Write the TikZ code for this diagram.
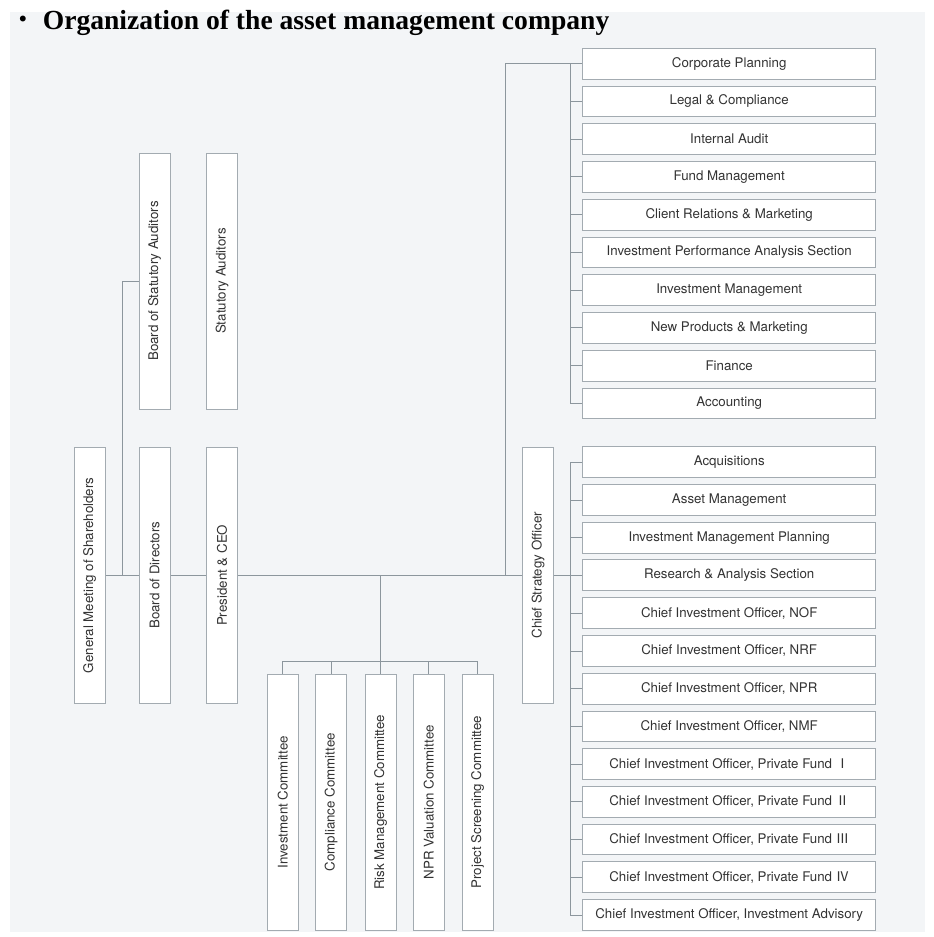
\documentclass[tikz,border=0pt]{standalone}
\usepackage{fontspec}
\setmainfont{Liberation Serif}
\setsansfont{TeX Gyre Heros}
\newfontfamily\cjk{Noto Sans CJK JP}

\definecolor{bgfill}{HTML}{F3F5F7}
\definecolor{boxline}{HTML}{A3ABB1}
\definecolor{wireline}{HTML}{8C969D}
\definecolor{txt}{HTML}{333333}

\newcommand{\vlabel}[1]{\rotatebox{90}{#1}}

\begin{document}
\begin{tikzpicture}[x=1pt, y=-1pt,
	unit/.style={draw=boxline, fill=white, line width=1pt, minimum width=293pt, minimum height=30.7pt, inner sep=0pt, text=txt, font=\sffamily\fontsize{13.3}{15}\selectfont},
	post/.style={unit, minimum width=31pt, minimum height=256pt},
	wire/.style={draw=wireline, line width=1pt}]
				\useasboundingbox (0,0) rectangle (934,937);
				
				% Light gray sheet behind the chart
				\fill[bgfill] (10,12) rectangle (925,932);
				
				% Heading
				\node[anchor=base west, inner sep=0pt, font=\fontsize{27.6}{30}\selectfont\bfseries] (title) at (9,29) {{\mdseries\cjk ・}\hspace{6pt}Organization of the asset management company};
				
				% Governing bodies (upright boxes)
				\node[post] (gm) at (89.7,575.3) {\vlabel{General Meeting of Shareholders}};
				\node[post] (bod) at (154.7,575.3) {\vlabel{Board of Directors}};
				\node[post] (ceo) at (222,575.3) {\vlabel{President \& CEO}};
				\node[post] (bsa) at (154.7,281) {\vlabel{Board of Statutory Auditors}};
				\node[post] (sa) at (222,281) {\vlabel{Statutory Auditors}};
				\node[post] (cso) at (538,575.3) {\vlabel{Chief Strategy Officer}};
				
				% Committees
				\node[post] (inv) at (282.8,802.2) {\vlabel{Investment Committee}};
				\node[post] (comp) at (331.2,802.2) {\vlabel{Compliance Committee}};
				\node[post] (risk) at (380.5,802.2) {\vlabel{Risk Management Committee}};
				\node[post] (npr) at (428.7,802.2) {\vlabel{NPR Valuation Committee}};
				\node[post] (proj) at (477.5,802.2) {\vlabel{Project Screening Committee}};
				
				% Departments under the President
				\node[unit] (corp) at (729.2,63.7) {Corporate Planning};
				\node[unit] (legal) at (729.2,101.4) {Legal \& Compliance};
				\node[unit] (audit) at (729.2,139.2) {Internal Audit};
				\node[unit] (fund) at (729.2,176.9) {Fund Management};
				\node[unit] (client) at (729.2,214.7) {Client Relations \& Marketing};
				\node[unit] (perf) at (729.2,252.4) {Investment Performance Analysis Section};
				\node[unit] (invm) at (729.2,290.2) {Investment Management};
				\node[unit] (newp) at (729.2,327.9) {New Products \& Marketing};
				\node[unit] (fin) at (729.2,365.7) {Finance};
				\node[unit] (acct) at (729.2,403.4) {Accounting};
				
				% Departments under the Chief Strategy Officer
				\node[unit] (acq) at (729.2,462.3) {Acquisitions};
				\node[unit] (asset) at (729.2,500) {Asset Management};
				\node[unit] (imp) at (729.2,537.8) {Investment Management Planning};
				\node[unit] (research) at (729.2,575.3) {Research \& Analysis Section};
				\node[unit] (nof) at (729.2,613.2) {Chief Investment Officer, NOF};
				\node[unit] (nrf) at (729.2,651) {Chief Investment Officer, NRF};
				\node[unit] (nprc) at (729.2,688.7) {Chief Investment Officer, NPR};
				\node[unit] (nmf) at (729.2,726.4) {Chief Investment Officer, NMF};
				\node[unit] (pf1) at (729.2,764.1) {Chief Investment Officer, Private Fund {\cjk Ⅰ}};
				\node[unit] (pf2) at (729.2,801.9) {Chief Investment Officer, Private Fund {\cjk Ⅱ}};
				\node[unit] (pf3) at (729.2,839.6) {Chief Investment Officer, Private Fund {\cjk Ⅲ}};
				\node[unit] (pf4) at (729.2,877.3) {Chief Investment Officer, Private Fund {\cjk Ⅳ}};
				\node[unit] (advis) at (729.2,915.1) {Chief Investment Officer, Investment Advisory};
				
				% Main line through the governing bodies
				\draw[wire] (gm.east) -- (bod.west);
				\draw[wire] (bod.east) -- (ceo.west);
				\draw[wire] (ceo.east) -- (cso.west);
				
				% Auditors hang off the main line
				\coordinate (aud) at (122,575.3);
				\draw[wire] (bsa.west) -| (aud);
				
				% Committee bus
				\coordinate (cmt) at (380.5,575.3);
				\draw[wire] (cmt) -- (risk.north);
				\draw[wire] (inv.north) -- ++(0,-12) -| (proj.north);
				\draw[wire] (comp.north) -- ++(0,-12);
				\draw[wire] (npr.north) -- ++(0,-12);
				
				% Bus to the upper departments
				\coordinate (stf) at (505.7,575.3);
				\draw[wire] (stf) |- (corp.west);
				\draw[wire] (corp.west) ++(-12,0) |- (acct.west);
				\draw[wire] (legal.west) -- ++(-12,0);
				\draw[wire] (audit.west) -- ++(-12,0);
				\draw[wire] (fund.west) -- ++(-12,0);
				\draw[wire] (client.west) -- ++(-12,0);
				\draw[wire] (perf.west) -- ++(-12,0);
				\draw[wire] (invm.west) -- ++(-12,0);
				\draw[wire] (newp.west) -- ++(-12,0);
				\draw[wire] (fin.west) -- ++(-12,0);
				
				% Bus to the lower departments
				\draw[wire] (cso.east) -- (research.west);
				\draw[wire] (acq.west) -- ++(-12,0) |- (advis.west);
				\draw[wire] (asset.west) -- ++(-12,0);
				\draw[wire] (imp.west) -- ++(-12,0);
				\draw[wire] (nof.west) -- ++(-12,0);
				\draw[wire] (nrf.west) -- ++(-12,0);
				\draw[wire] (nprc.west) -- ++(-12,0);
				\draw[wire] (nmf.west) -- ++(-12,0);
				\draw[wire] (pf1.west) -- ++(-12,0);
				\draw[wire] (pf2.west) -- ++(-12,0);
				\draw[wire] (pf3.west) -- ++(-12,0);
				\draw[wire] (pf4.west) -- ++(-12,0);
			\end{tikzpicture}
\end{document}
